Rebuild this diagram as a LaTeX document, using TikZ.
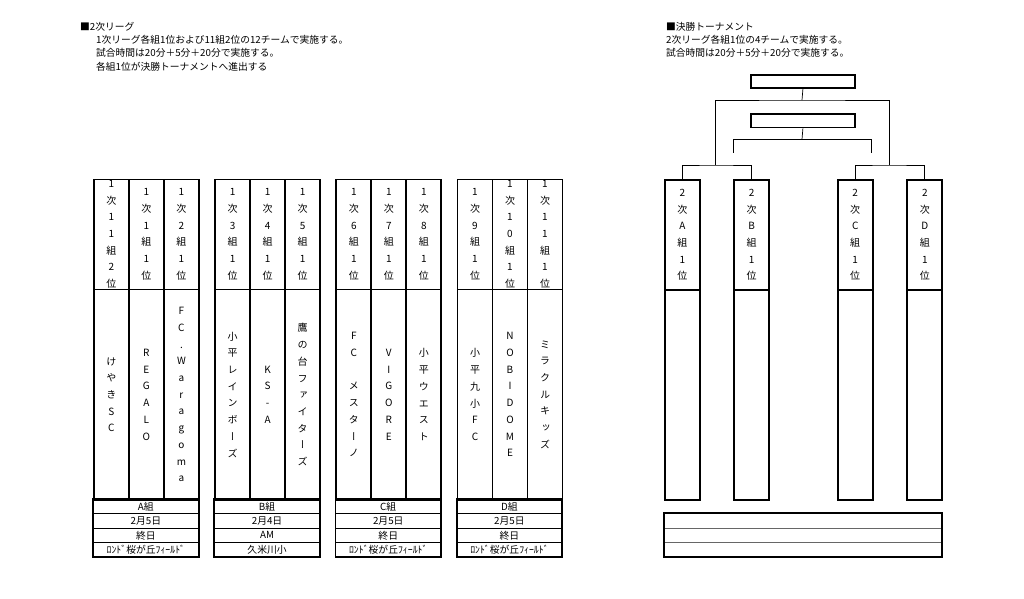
\documentclass[tikz,border=0pt]{standalone}
\usepackage{fontspec}
\setmainfont{Noto Sans CJK JP}
\newfontfamily\jp{Noto Sans CJK JP}
\newfontfamily\jpv[RawFeature=+vert]{Noto Sans CJK JP}
\newcommand\grpframe[6]{%
  \foreach \c in {1,2,3} {
    \node[hcell] (#1-h\c) at ({#2+35*(\c-1)},178.5) {};
    \node[ncell] (#1-n\c) at ({#2+35*(\c-1)},288.5) {};
  }
  \node[icell] (#1-i1) at (#2,499) {#3};
  \node[icell] (#1-i2) at (#2,513.4) {#4};
  \node[icell] (#1-i3) at (#2,527.8) {#5};
  \node[icell] (#1-i4) at (#2,542.2) {#6};
  \draw[line width=1.8pt] (#1-i1.north west) rectangle (#1-i4.south east);
}
\begin{document}
\begin{tikzpicture}[x=1pt,y=-1pt,
  thickcell/.style={draw, line width=1.8pt, inner sep=0pt, anchor=north west, minimum width=35pt},
  hcell/.style={thickcell, minimum height=110pt},
  ncell/.style={thickcell, minimum height=210.5pt},
  tcell/.style={thickcell, minimum height=210pt},
  icell/.style={draw, line width=0.7pt, inner sep=0pt, anchor=north west, minimum width=105pt, minimum height=14.4pt, font=\jp\fontsize{9.8}{10}\selectfont},
  brow/.style={draw=black!60, line width=0.7pt, inner sep=0pt, anchor=north west, minimum width=277.8pt, minimum height=14.45pt},
  vt/.style={inner sep=0pt, align=center, font=\jpv\fontsize{10}{16.7}\selectfont},
  note/.style={inner sep=0pt, anchor=west, align=left, font=\jp\fontsize{9.75}{13.4}\selectfont},
  bbox/.style={draw, line width=1.8pt, anchor=north west, minimum width=104pt, minimum height=13.3pt, inner sep=0pt},
  conn/.style={line width=0.7pt}]
\useasboundingbox (0,0) rectangle (1024,598);
\fill[white] (0,0) rectangle (1024,598);

% notes
\node[note] (t1) at (80,26.5) {■2次リーグ};
\node[note, anchor=north west] (t2) at (96,35) {1次リーグ各組1位および11組2位の12チームで実施する。\\試合時間は20分＋5分＋20分で実施する。\\各組1位が決勝トーナメントへ進出する};
\node[note] (t3) at (666,26.5) {■決勝トーナメント};
\node[note, anchor=north west] (t4) at (666,35) {2次リーグ各組1位の4チームで実施する。\\試合時間は20分＋5分＋20分で実施する。};

% groups
\grpframe{A}{93}{A組}{2月5日}{終日}{ﾛﾝﾄﾞ桜が丘ﾌｨｰﾙﾄﾞ}
\grpframe{B}{214.2}{B組}{2月4日}{AM}{久米川小}
\grpframe{C}{335.4}{C組}{2月5日}{終日}{ﾛﾝﾄﾞ桜が丘ﾌｨｰﾙﾄﾞ}
\grpframe{D}{456.6}{D組}{2月5日}{終日}{ﾛﾝﾄﾞ桜が丘ﾌｨｰﾙﾄﾞ}

\node[vt] (A-h1t) at (A-h1.center) {1\\次\\1\\1\\組\\2\\位};
\node[vt] (A-h2t) at (A-h2.center) {1\\次\\1\\組\\1\\位};
\node[vt] (A-h3t) at (A-h3.center) {1\\次\\2\\組\\1\\位};
\node[vt] (B-h1t) at (B-h1.center) {1\\次\\3\\組\\1\\位};
\node[vt] (B-h2t) at (B-h2.center) {1\\次\\4\\組\\1\\位};
\node[vt] (B-h3t) at (B-h3.center) {1\\次\\5\\組\\1\\位};
\node[vt] (C-h1t) at (C-h1.center) {1\\次\\6\\組\\1\\位};
\node[vt] (C-h2t) at (C-h2.center) {1\\次\\7\\組\\1\\位};
\node[vt] (C-h3t) at (C-h3.center) {1\\次\\8\\組\\1\\位};
\node[vt] (D-h1t) at (D-h1.center) {1\\次\\9\\組\\1\\位};
\node[vt] (D-h2t) at (D-h2.center) {1\\次\\1\\0\\組\\1\\位};
\node[vt] (D-h3t) at (D-h3.center) {1\\次\\1\\1\\組\\1\\位};

\node[vt] (A-n1t) at (A-n1.center) {け\\や\\き\\S\\C};
\node[vt] (A-n2t) at (A-n2.center) {R\\E\\G\\A\\L\\O};
\node[vt] (A-n3t) at (A-n3.center) {F\\C\\.\\W\\a\\r\\a\\g\\o\\m\\a};
\node[vt] (B-n1t) at (B-n1.center) {小\\平\\レ\\イ\\ン\\ボ\\ー\\ズ};
\node[vt] (B-n2t) at (B-n2.center) {K\\S\\-\\A};
\node[vt] (B-n3t) at (B-n3.center) {鷹\\の\\台\\フ\\ァ\\イ\\タ\\ー\\ズ};
\node[vt] (C-n1t) at (C-n1.center) {F\\C\\\strut\\メ\\ス\\タ\\ー\\ノ};
\node[vt] (C-n2t) at (C-n2.center) {V\\I\\G\\O\\R\\E};
\node[vt] (C-n3t) at (C-n3.center) {小\\平\\ウ\\エ\\ス\\ト};
\node[vt] (D-n1t) at (D-n1.center) {小\\平\\九\\小\\F\\C};
\node[vt] (D-n2t) at (D-n2.center) {N\\O\\B\\I\\D\\O\\M\\E};
\node[vt] (D-n3t) at (D-n3.center) {ミ\\ラ\\ク\\ル\\キ\\ッ\\ズ};

% tournament
\node[bbox] (final) at (750,74) {};
\node[bbox] (third) at (750,113.3) {};
\foreach \n/\x/\l in {s1/664/A, s2/733.2/B, s3/836.8/C, s4/906.4/D} {
  \node[hcell] (\n) at (\x,179) {};
  \node[tcell] (\n-b) at (\x,289) {};
  \node[vt] (\n-t) at (\n.center) {2\\次\\\l\\組\\1\\位};
}
\node[brow] (r1) at (663.6,513.3) {};
\node[brow] (r2) at (663.6,527.75) {};
\node[brow] (r3) at (663.6,542.2) {};
\draw[line width=1.8pt] (r1.north west) rectangle (r3.south east);

\coordinate (jA) at (715.7,165);
\coordinate (jB) at (889,165);
\coordinate (top) at (802,100);
\coordinate (tm) at (802,139.3);
\coordinate (tl) at (733.3,152.7);
\coordinate (tr) at (871.7,152.7);
\draw[conn] (final.south) -- (top);
\draw[conn] (jA) |- (top) -| (jB);
\draw[conn] (s1.north) |- (jA) -| (s2.north);
\draw[conn] (s3.north) |- (jB) -| (s4.north);
\draw[conn] (third.south) -- (tm);
\draw[conn] (tl) |- (tm) -| (tr);
\end{tikzpicture}
\end{document}
